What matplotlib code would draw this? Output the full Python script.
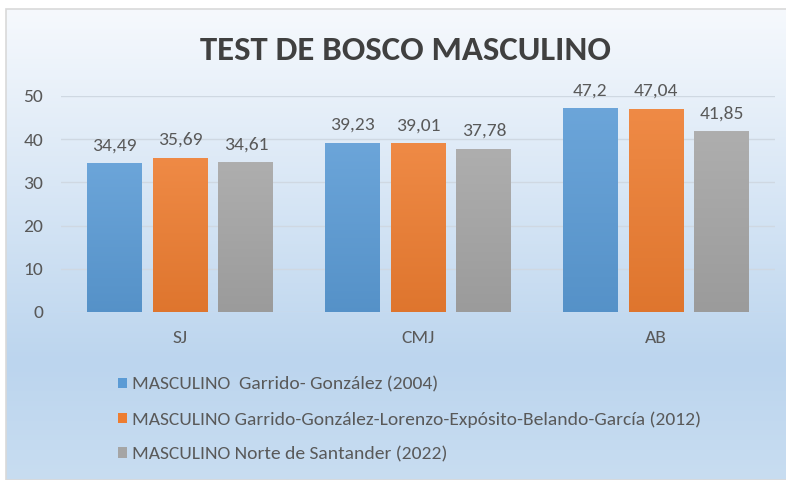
import numpy as np
import matplotlib
matplotlib.use("Agg")
import matplotlib.pyplot as plt
from matplotlib.colors import LinearSegmentedColormap, to_rgb
from matplotlib.patches import Rectangle

# data
categories = ["SJ", "CMJ", "AB"]
series_names = [
    "MASCULINO  Garrido- González (2004)",
    "MASCULINO Garrido-González-Lorenzo-Expósito-Belando-García (2012)",
    "MASCULINO Norte de Santander (2022)",
]
garrido_2004 = [34.49, 39.23, 47.2]
garrido_2012 = [35.69, 39.01, 47.04]
norte_2022 = [34.61, 37.78, 41.85]
yticks = [0, 10, 20, 30, 40, 50]

values = [garrido_2004, garrido_2012, norte_2022]
colors = ["#5b9bd5", "#ed7d31", "#a5a5a5"]

plt.rcParams["font.family"] = ["Carlito", "DejaVu Sans"]
text_color = "#595959"

W, H = 786, 480
fig = plt.figure(figsize=(W / 100, H / 100), dpi=100)
fig.patch.set_facecolor("white")

# chart area background gradient
bg = fig.add_axes([6 / W, 0, 1 - 6 / W, 1 - 9 / H], zorder=0)
bg_cmap = LinearSegmentedColormap.from_list(
    "bg", [(0, "#f6f9fd"), (0.75, "#bcd5ee"), (1, "#c8ddf1")])
bg.imshow(np.linspace(0, 1, 256)[:, None], aspect="auto", cmap=bg_cmap,
          extent=[0, 1, 0, 1], origin="upper")
bg.set_xlim(0, 1)
bg.set_ylim(0, 1)
bg.axis("off")
bg.add_patch(Rectangle((0, 0), 1.2, 1, fill=False, edgecolor="#d9d9d9",
                       linewidth=1.2, transform=bg.transAxes, clip_on=False))

ax = fig.add_axes([61 / W, 1 - 312 / H, 714 / W, 216 / H], zorder=1)
ax.patch.set_alpha(0)

x = np.arange(len(categories))
width = 0.231
offsets = [-0.277, 0, 0.277]


def shade(c, f):
    r, g, b = to_rgb(c)
    if f > 0:
        return (r + (1 - r) * f, g + (1 - g) * f, b + (1 - b) * f)
    return (r * (1 + f), g * (1 + f), b * (1 + f))


for vals, off, col, name in zip(values, offsets, colors, series_names):
    bars = ax.bar(x + off, vals, width, color=col, label=name, zorder=3)
    cmap = LinearSegmentedColormap.from_list("g", [shade(col, -0.06), shade(col, 0.1)])
    for b, v in zip(bars, vals):
        bx, by = b.get_x(), b.get_y()
        im = ax.imshow(np.linspace(0, 1, 64)[:, None], cmap=cmap, aspect="auto",
                       extent=[bx, bx + b.get_width(), by, by + b.get_height()],
                       origin="lower", zorder=3.5)
        im.set_clip_path(b)
        ax.annotate(f"{v:g}".replace(".", ","), (bx + b.get_width() / 2, v),
                    xytext=(0, 7), textcoords="offset points", ha="center",
                    va="bottom", fontsize=14, color=text_color)

ax.set_xlim(-0.5, 2.5)
ax.set_ylim(0, 50)
ax.set_yticks(yticks)
ax.set_xticks(x)
ax.set_xticklabels(categories)
ax.tick_params(axis="both", length=0, labelsize=14, labelcolor=text_color)
ax.tick_params(axis="y", pad=13)
ax.tick_params(axis="x", pad=13)
ax.grid(axis="y", color="#cfd8e2", linewidth=1, zorder=0)
for s in ax.spines.values():
    s.set_visible(False)

fig.text(405 / W, 1 - 50 / H, "TEST DE BOSCO MASCULINO", ha="center",
         va="center", fontsize=25, fontweight="bold", color="#404040")

handles, labels = ax.get_legend_handles_labels()
leg = fig.legend(handles, labels, loc="upper left",
                 bbox_to_anchor=(110 / W, 1 - 369 / H), frameon=False,
                 fontsize=14, labelcolor=text_color, handlelength=0.45,
                 handleheight=0.45, handletextpad=0.3, labelspacing=0.95,
                 borderaxespad=0)

fig.savefig("out.png", dpi=100)
